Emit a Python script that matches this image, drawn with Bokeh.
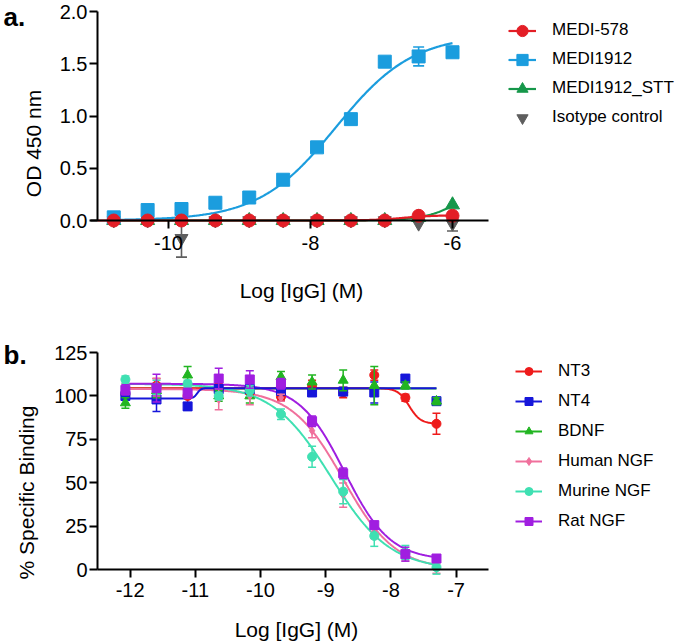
import math
import numpy as np
from bokeh.plotting import figure
from bokeh.layouts import column
from bokeh.models import ColumnDataSource, FixedTicker, Legend, LegendItem, Label, Range1d
from bokeh.core.properties import value
from bokeh.embed import file_html
from bokeh.resources import INLINE

# ---------------- panel a data ----------------
A_X = [-10.771, -10.294, -9.817, -9.340, -8.863, -8.385, -7.908, -7.431, -6.954, -6.477, -6.000]
A_NAMES = ["MEDI-578", "MEDI1912", "MEDI1912_STT", "Isotype control"]
A_MEDI578 = [0.0, 0.0, 0.0, 0.0, 0.0, 0.0, 0.0, 0.0, 0.0, 0.045, 0.045]
A_MEDI578_ERR = [0, 0, 0, 0, 0, 0, 0, 0, 0, 0, 0]
A_MEDI1912 = [0.03, 0.10, 0.11, 0.17, 0.22, 0.39, 0.70, 0.97, 1.52, 1.57, 1.61]
A_MEDI1912_ERR = [0, 0, 0, 0, 0, 0, 0, 0, 0, 0.09, 0]
A_STT = [0.0, 0.0, 0.0, 0.0, 0.0, 0.0, 0.0, 0.0, 0.0, 0.03, 0.15]
A_STT_ERR = [0, 0, 0, 0, 0, 0, 0, 0, 0, 0, 0]
A_ISO = [0.0, 0.0, -0.17, 0.0, 0.0, 0.0, 0.0, 0.0, 0.0, -0.03, -0.03]
A_ISO_ERR = [0, 0, 0.18, 0, 0, 0, 0, 0, 0, 0, 0.07]
# fitted 4PL parameters (bottom, top, logEC50, hill); None = no curve
A_FIT_MEDI578 = (0.0, 0.05, -6.7, 2.0)
A_FIT_MEDI1912 = (0.0, 1.78, -7.645, 0.8)
A_FIT_STT = (0.0, 0.5, -5.75, 1.6)
A_FIT_ISO = None
A_XTICKS = [-10, -8, -6]
A_XTICK_LABELS = ["-10", "-8", "-6"]
A_YTICKS = [0, 0.5, 1.0, 1.5, 2.0]
A_YTICK_LABELS = ["0.0", "0.5", "1.0", "1.5", "2.0"]
A_XTITLE = "Log [IgG] (M)"
A_YTITLE = "OD 450 nm"

# ---------------- panel b data ----------------
B_X = [-12.072, -11.595, -11.118, -10.641, -10.164, -9.686, -9.209, -8.732, -8.255, -7.778, -7.301]
B_NAMES = ["NT3", "NT4", "BDNF", "Human NGF", "Murine NGF", "Rat NGF"]
B_NT3 = [101, 106, 100, 104, 102, 99.5, 106, 102, 112, 99, 84]
B_NT3_ERR = [3, 4, 4, 3, 3, 2, 3, 3, 3, 2, 6]
B_NT4 = [100, 98, 94, 104, 104, 103, 102, 102.5, 102, 110, 97]
B_NT4_ERR = [2, 7, 2, 2, 2, 2, 2, 2, 6, 1, 1]
B_BDNF = [96, 103, 112, 100, 100, 111, 108, 109, 106, 106, 97]
B_BDNF_ERR = [3, 4, 5, 3, 4, 3, 4, 6, 11, 2, 2]
B_HUMAN = [104, 105, 103, 98, 100, 99, 80, 43, 22, 8, 1]
B_HUMAN_ERR = [3, 5, 3, 6, 5, 2, 4, 7, 4, 3, 3]
B_MURINE = [109.5, 105, 107, 100, 103, 89.5, 65, 45, 19.5, 10, 1.5]
B_MURINE_ERR = [2, 4, 2, 2, 3, 3, 6, 7, 6, 4, 4]
B_RAT = [103.5, 104.5, 101.5, 110, 109.5, 107, 85.5, 55.5, 25.7, 9, 6.5]
B_RAT_ERR = [3, 8, 3, 6, 5, 3, 3, 3, 2, 4, 2]
B_FIT_NT3 = (84.0, 104.5, -7.72, -5.0)
B_FIT_NT4 = (98.6, 104.5, -10.97, 15.0)
B_FIT_BDNF = (104.3, 104.3, -9.0, 1.0)
B_FIT_HUMAN = (0.0, 104.0, -8.73, -1.09)
B_FIT_MURINE = (0.0, 107.0, -8.92, -0.96)
B_FIT_RAT = (5.5, 107.0, -8.71, -1.25)
B_XTICKS = [-12, -11, -10, -9, -8, -7]
B_XTICK_LABELS = ["-12", "-11", "-10", "-9", "-8", "-7"]
B_YTICKS = [0, 25, 50, 75, 100, 125]
B_YTICK_LABELS = ["0", "25", "50", "75", "100", "125"]
B_XTITLE = "Log [IgG] (M)"
B_YTITLE = "% Specific Binding"

FONT = "Liberation Sans"
PAGE_W = 675


def fourpl(params, xs):
    bottom, top, c, h = params
    xs = np.asarray(xs, dtype=float)
    return bottom + (top - bottom) / (1.0 + 10.0 ** ((c - xs) * h))


def style(p, xloc, xticks, xlabels, yticks, ylabels, xb, yb, xstand):
    p.xgrid.visible = False
    p.ygrid.visible = False
    p.outline_line_color = None
    p.background_fill_color = "white"
    p.border_fill_color = "white"
    xa = p.xaxis[0]
    ya = p.yaxis[0]
    xa.fixed_location = 0
    ya.fixed_location = xloc
    xa.ticker = FixedTicker(ticks=xticks, minor_ticks=[])
    ya.ticker = FixedTicker(ticks=yticks, minor_ticks=[])
    xa.major_label_overrides = dict(zip(xticks, xlabels))
    ya.major_label_overrides = dict(zip(yticks, ylabels))
    xa.bounds = xb
    ya.bounds = yb
    for ax in (xa, ya):
        ax.axis_line_width = 2
        ax.axis_line_color = "black"
        ax.major_tick_line_width = 2
        ax.major_tick_line_color = "black"
        ax.major_tick_in = 0
        ax.major_tick_out = 8
        ax.minor_tick_line_color = None
        ax.major_label_text_font = FONT
        ax.major_label_text_font_size = "20px"
        ax.major_label_text_color = "black"
    xa.major_label_standoff = xstand
    ya.major_label_standoff = 2


def title_label(p, text, sx, sy, angle):
    p.add_layout(Label(x=sx, y=sy, x_units="screen", y_units="screen", text=text,
                       angle=angle, angle_units="rad", text_font=FONT, text_font_size="21px",
                       text_color="black", text_align="center", text_baseline="middle"))


def errbars(p, xs, ys, errs, color, cap, lw):
    keep = [(x, y, e) for x, y, e in zip(xs, ys, errs) if e > 0]
    if not keep:
        return
    src = ColumnDataSource(dict(x=[k[0] for k in keep],
                                lo=[k[1] - k[2] for k in keep],
                                hi=[k[1] + k[2] for k in keep]))
    p.segment(x0="x", y0="lo", x1="x", y1="hi", source=src, line_color=color, line_width=lw)
    p.scatter(x="x", y="hi", marker="dash", size=cap, line_color=color, line_width=lw, source=src)
    p.scatter(x="x", y="lo", marker="dash", size=cap, line_color=color, line_width=lw, source=src)


def legend_style(leg, gw, gh, spacing):
    leg.glyph_width = gw
    leg.glyph_height = gh
    leg.label_height = 20
    leg.spacing = spacing
    leg.padding = 0
    leg.margin = 0
    leg.label_standoff = 16
    leg.label_text_font = FONT
    leg.label_text_font_size = "17px"
    leg.label_text_color = "black"
    leg.border_line_color = None
    leg.background_fill_alpha = 0


# ================= panel a =================
# frame covers the whole figure; axes are pinned at x=-11 / y=0
A_H = 310
A_AXIS_PX, A_TOP = 97, 11          # y-axis at 97 px, value 2.0 at 11 px
A_PXY = 104.5
A_PX = 71.0
A_XAXIS0 = -11.0
A_XL = A_XAXIS0 - A_AXIS_PX / A_PX
A_XR = A_XL + PAGE_W / A_PX
A_YT = 2.0 + A_TOP / A_PXY
A_YB = A_YT - A_H / A_PXY

pa = figure(frame_width=PAGE_W, frame_height=A_H, x_range=Range1d(A_XL, A_XR),
            y_range=Range1d(A_YB, A_YT), output_backend="svg", toolbar_location=None,
            min_border_left=0, min_border_right=0, min_border_top=0, min_border_bottom=0)
style(pa, A_XAXIS0, A_XTICKS, A_XTICK_LABELS, A_YTICKS, A_YTICK_LABELS, (-11.1, -5.5), (0, 2.0), 7)

a_series = [
    ("MEDI-578", A_MEDI578, A_MEDI578_ERR, A_FIT_MEDI578, "#E31E26", "circle", 13),
    ("MEDI1912", A_MEDI1912, A_MEDI1912_ERR, A_FIT_MEDI1912, "#1B9DDE", "square", 13),
    ("MEDI1912_STT", A_STT, A_STT_ERR, A_FIT_STT, "#16974A", "triangle", 14),
    ("Isotype control", A_ISO, A_ISO_ERR, A_FIT_ISO, "#5E5E5E", "inverted_triangle", 13),
]
a_items = {}
for name, ys, errs, fit, color, marker, size in reversed(a_series):
    rs = []
    if fit is not None:
        cx = np.linspace(A_XAXIS0 if name == "MEDI-578" else min(A_X), max(A_X), 300)
        rl = pa.line(cx, fourpl(fit, cx), line_color=color, line_width=2.2)
        rs.append(rl)
    errbars(pa, A_X, ys, errs, color, 11, 1.6)
    rm = pa.scatter(A_X, ys, marker=marker, size=size, fill_color=color, line_color=color)
    rs.append(rm)
    a_items[name] = rs

leg_a = Legend(items=[LegendItem(label=value(n[0]), renderers=a_items[n[0]]) for n in a_series],
               location=(508, A_H - 131.5), orientation="vertical")
legend_style(leg_a, 28, 29, 0)
pa.add_layout(leg_a)

title_label(pa, A_XTITLE, 301, A_H - 290, 0)
title_label(pa, A_YTITLE, 33, A_H - 143, math.pi / 2)
pa.add_layout(Label(x=3, y=A_H - 16, x_units="screen", y_units="screen",
                    text="a.", text_font=FONT, text_font_size="26px", text_font_style="bold",
                    text_color="black", text_baseline="middle", text_align="left"))

# ================= panel b =================
B_H = 332
B_AXIS_PX, B_TOP = 97, 42          # y-axis at 97 px, value 125 at 42 px
B_PXY = 1.7384
B_PX = 65.2
B_XAXIS0 = -12.5
B_XL = B_XAXIS0 - B_AXIS_PX / B_PX
B_XR = B_XL + PAGE_W / B_PX
B_YT = 125.0 + B_TOP / B_PXY
B_YB = B_YT - B_H / B_PXY

pb = figure(frame_width=PAGE_W, frame_height=B_H, x_range=Range1d(B_XL, B_XR),
            y_range=Range1d(B_YB, B_YT), output_backend="svg", toolbar_location=None,
            min_border_left=0, min_border_right=0, min_border_top=0, min_border_bottom=0)
style(pb, B_XAXIS0, B_XTICKS, B_XTICK_LABELS, B_YTICKS, B_YTICK_LABELS, (-12.5, -6.5), (0, 125), 5)

b_series = [
    ("NT3", B_NT3, B_NT3_ERR, B_FIT_NT3, "#EE1B1B", "circle", 9),
    ("NT4", B_NT4, B_NT4_ERR, B_FIT_NT4, "#1616DA", "square", 9),
    ("BDNF", B_BDNF, B_BDNF_ERR, B_FIT_BDNF, "#21B521", "triangle", 10),
    ("Human NGF", B_HUMAN, B_HUMAN_ERR, B_FIT_HUMAN, "#F0709C", "diamond", 8),
    ("Murine NGF", B_MURINE, B_MURINE_ERR, B_FIT_MURINE, "#3FE0B2", "circle", 9),
    ("Rat NGF", B_RAT, B_RAT_ERR, B_FIT_RAT, "#A01EE0", "square", 9),
]
b_lines = {}
cxb = np.linspace(min(B_X), max(B_X), 400)
for idx in [2, 0, 3, 4, 5, 1]:
    name, ys, errs, fit, color, marker, size = b_series[idx]
    b_lines[name] = pb.line(cxb, fourpl(fit, cxb), line_color=color, line_width=2)
b_items = {}
for name, ys, errs, fit, color, marker, size in b_series:
    errbars(pb, B_X, ys, errs, color, 8, 1.5)
    rm = pb.scatter(B_X, ys, marker=marker, size=size, fill_color=color, line_color=color)
    b_items[name] = [b_lines[name], rm]

leg_b = Legend(items=[LegendItem(label=value(n[0]), renderers=b_items[n[0]]) for n in b_series],
               location=(515, B_H - (531 - 310)), orientation="vertical")
legend_style(leg_b, 27, 20, 10)
pb.add_layout(leg_b)

title_label(pb, B_XTITLE, 296, B_H - (629 - 310), 0)
title_label(pb, B_YTITLE, 26, B_H - (492 - 310), math.pi / 2)
pb.add_layout(Label(x=3, y=B_H - (354 - 310), x_units="screen", y_units="screen",
                    text="b.", text_font=FONT, text_font_size="26px", text_font_style="bold",
                    text_color="black", text_baseline="middle", text_align="left"))

layout = column(pa, pb)
open("out.html", "w").write(file_html(layout, INLINE))
